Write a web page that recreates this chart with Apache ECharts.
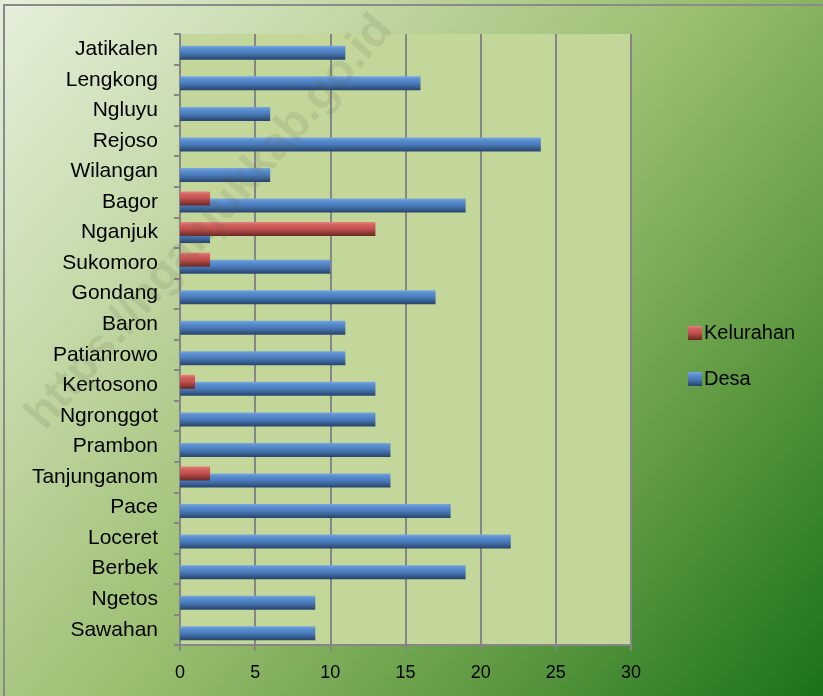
<!DOCTYPE html>
<html>
<head>
<meta charset="utf-8">
<script src="https://cdn.jsdelivr.net/npm/echarts@6/dist/echarts.min.js"></script>
<style>html,body{margin:0;padding:0;}#c{width:823px;height:696px;}</style>
</head>
<body>
<div id="c"></div>
<script>
const categories = ['Sawahan','Ngetos','Berbek','Loceret','Pace','Tanjunganom','Prambon','Ngronggot','Kertosono','Patianrowo','Baron','Gondang','Sukomoro','Nganjuk','Bagor','Wilangan','Rejoso','Ngluyu','Lengkong','Jatikalen'];
const desa =      [9, 9, 19, 22, 18, 14, 14, 13, 13, 11, 11, 17, 10, 2, 19, 6, 24, 6, 16, 11];
const kelurahan = [0, 0, 0, 0, 0, 2, 0, 0, 1, 0, 0, 0, 2, 13, 2, 0, 0, 0, 0, 0];
const xTicks = [0, 5, 10, 15, 20, 25, 30];

const FONT = 'Liberation Sans';
const chart = echarts.init(document.getElementById('c'));
const grad = (stops) => new echarts.graphic.LinearGradient(0, 0, 0, 1, stops.map((c) => ({offset: c[0], color: c[1]})));
const blueGrad = grad([[0,'#7aa7df'],[0.2,'#5b8fd0'],[0.5,'#4a7bba'],[0.75,'#3a6094'],[1,'#26436a']]);
const redGrad = grad([[0,'#e4837f'],[0.2,'#d1625e'],[0.5,'#c0504d'],[0.75,'#953c39'],[1,'#6a2624']]);

chart.setOption({
  backgroundColor: new echarts.graphic.LinearGradient(0, 0, 1, 1, [
    {offset: 0, color: '#e6efdc'},
    {offset: 0.25, color: '#c3d8a6'},
    {offset: 0.5, color: '#9bbe70'},
    {offset: 0.75, color: '#5f9a42'},
    {offset: 1, color: '#1a721b'}
  ]),
  animation: false,
  graphic: [
    {type: 'rect', shape: {x: 4, y: 5, width: 840, height: 720}, style: {fill: 'none', stroke: '#8a8a8a', lineWidth: 2}, z: 100},
    {type: 'text', x: 18, y: 408, rotation: 49 * Math.PI / 180,
     style: {text: 'https://nganjukkab.go.id', font: 'bold 46px "Liberation Sans"', fill: 'rgba(90,100,70,0.14)'}, z: 50}
  ],
  grid: {left: 180, top: 34, right: 192, bottom: 51, show: true, backgroundColor: '#c4d79b', borderWidth: 0},
  legend: {
    orient: 'vertical', left: 683, top: 318, itemWidth: 14, itemHeight: 14, itemGap: 26,
    icon: 'rect',
    data: ['Kelurahan', 'Desa'],
    textStyle: {fontFamily: FONT, fontSize: 20, color: '#000', padding: [0, 0, 0, -3]}
  },
  xAxis: {
    type: 'value', min: 0, max: 30, interval: 5,
    axisLine: {show: true, lineStyle: {color: '#868686', width: 2}},
    axisTick: {show: true, length: 6, lineStyle: {color: '#868686', width: 2}},
    splitLine: {show: true, lineStyle: {color: '#868686', width: 2}},
    axisLabel: {margin: 19, fontFamily: FONT, fontSize: 18, color: '#000',
      formatter: v => xTicks.includes(v) ? String(v) : ''}
  },
  yAxis: {
    type: 'category', data: categories,
    axisLine: {show: true, lineStyle: {color: '#868686', width: 2}},
    axisTick: {show: true, length: 6, inside: false, lineStyle: {color: '#868686', width: 2}},
    axisLabel: {margin: 22, fontFamily: FONT, fontSize: 21, color: '#000'}
  },
  series: [
    {name: 'Kelurahan', type: 'bar', data: kelurahan, barWidth: 14, barGap: '-50%', z: 3,
     itemStyle: {color: redGrad, borderWidth: 0}},
    {name: 'Desa', type: 'bar', data: desa, barWidth: 14, barGap: '-50%', z: 2,
     itemStyle: {color: blueGrad, borderWidth: 0}}
  ]
});
</script>
</body>
</html>
